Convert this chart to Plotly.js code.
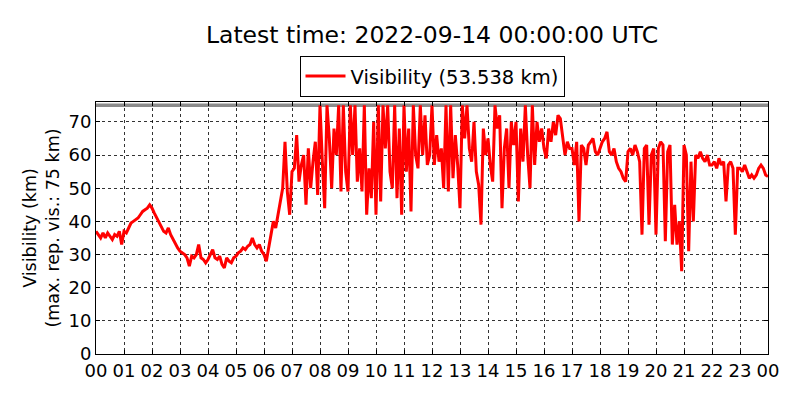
<!DOCTYPE html>
<html>
<head>
<meta charset="utf-8">
<script src="https://cdn.plot.ly/plotly-3.0.1.min.js"></script>
<style>
  html, body { margin: 0; padding: 0; background: #fff; }
  #chart { width: 800px; height: 400px; }
</style>
</head>
<body>
<div id="chart"></div>
<script>
/* visibility, 5-minute samples, km */
const startTime = '2022-09-13T00:00:00';
const stepMinutes = 5;
const maxRepVis = 75;
const latestVis = 53.538;

// 00:00 - 05:55
const visNight = [
  37, 36, 35, 36.5, 35, 36.5, 35.5, 34.5, 36, 35.5, 37, 33,
  37, 36.5, 38, 39.5, 40, 40.5, 41, 42, 43, 43.5, 44, 45,
  44, 42.5, 41, 39.5, 38, 37, 36.5, 38, 36, 34.5, 33.5, 32,
  31, 30.5, 30, 29, 26.5, 29.5, 29, 30, 33, 29, 28.5, 27.5,
  28.5, 30, 31.5, 29, 28.5, 29.5, 27, 26, 29, 28, 27.5, 29,
  29.5, 30.5, 31, 32, 31.5, 32.5, 33, 35, 33, 32, 33, 31
];
// 06:00 - 11:55
const visMorning = [
  30, 28, 32, 36, 40, 38, 42, 46, 50, 64, 49, 42,
  55, 56, 66, 52, 57, 60, 45, 62, 50, 58, 64, 48,
  75, 58, 44, 75, 65, 50, 68, 60, 75, 49, 75, 55,
  49, 75, 60, 75, 52, 62, 49, 75, 42, 56, 47, 70,
  42, 75, 46, 75, 62, 75, 55, 50, 75, 47, 68, 42,
  75, 55, 68, 43, 75, 60, 56, 75, 60, 72, 57, 60
];
// 12:00 - 17:55
const visAfternoon = [
  75, 57, 66, 58, 62, 50, 75, 49, 75, 53, 66, 57,
  44, 75, 65, 75, 62, 58, 70, 55, 51, 39, 68, 60,
  65, 57, 52, 75, 68, 72, 44, 62, 68, 50, 70, 63,
  70, 46, 68, 58, 75, 60, 50, 75, 57, 70, 64, 68,
  62, 59, 68, 64, 70, 66, 72, 71, 65, 60, 64, 62,
  62, 57, 64, 40, 63, 62, 57, 63, 64, 65, 61, 60
];
// 18:00 - 24:00
const visEvening = [
  62, 64, 65, 67, 61, 60, 62, 58, 56, 55, 53, 52,
  61, 62, 60, 63, 61, 58, 36, 62, 63, 39, 60, 62,
  36, 62, 64, 63, 34, 61, 63, 33, 45, 33, 40, 25,
  63, 60, 31, 58, 40, 60, 59, 61, 59, 58, 60, 57,
  57, 58, 56, 59, 57, 58, 46, 57, 58, 56, 36, 56,
  56, 55, 57, 55, 53, 54, 53, 54, 56, 57, 56, 54,
  latestVis
];

const yTicks = [0, 10, 20, 30, 40, 50, 60, 70];

const vis = [].concat(visNight, visMorning, visAfternoon, visEvening);
const t0 = new Date(startTime + 'Z').getTime();
const pad = n => String(n).padStart(2, '0');
const fmt = d => d.getUTCFullYear() + '-' + pad(d.getUTCMonth() + 1) + '-' + pad(d.getUTCDate()) +
  ' ' + pad(d.getUTCHours()) + ':' + pad(d.getUTCMinutes());
const times = vis.map((_, i) => fmt(new Date(t0 + i * stepMinutes * 60000)));
const tStart = times[0];
const tEnd = times[times.length - 1];

const FONT = 'DejaVu Sans, sans-serif';

const visTrace = {
  type: 'scatter',
  mode: 'lines',
  x: times,
  y: vis,
  name: 'Visibility (' + latestVis.toFixed(3) + ' km)',
  line: { color: '#ff0000', width: 3 },
  hoverinfo: 'skip',
};

const maxTrace = {
  type: 'scatter',
  mode: 'lines',
  x: [tStart, tEnd],
  y: [maxRepVis, maxRepVis],
  line: { color: 'rgba(120,120,120,0.85)', width: 3.5 },
  showlegend: false,
  hoverinfo: 'skip',
};

const axisBase = {
  showline: true,
  linecolor: '#000',
  linewidth: 1,
  mirror: 'allticks',
  ticks: 'inside',
  ticklen: 4,
  tickcolor: '#000',
  showgrid: true,
  gridcolor: '#000',
  gridwidth: 0.8,
  griddash: 'dot',
  zeroline: false,
  tickfont: { family: FONT, size: 18, color: '#000' },
};

const layout = {
  width: 800,
  height: 400,
  paper_bgcolor: '#fff',
  plot_bgcolor: '#fff',
  font: { family: FONT, color: '#000' },
  margin: { t: 102, r: 32, b: 46, l: 96 },
  title: {
    text: 'Latest time: 2022-09-14 00:00:00 UTC',
    font: { family: FONT, size: 23.5, color: '#000' },
    x: 0.54, xanchor: 'center',
    y: 0.912, yanchor: 'middle',
  },
  showlegend: true,
  legend: {
    x: 0.5, xanchor: 'center',
    y: 1.183, yanchor: 'top',
    bordercolor: '#000',
    borderwidth: 1,
    bgcolor: '#fff',
    itemwidth: 40,
    font: { family: FONT, size: 19.5, color: '#000' },
  },
  xaxis: Object.assign({}, axisBase, {
    type: 'date',
    range: [tStart, tEnd],
    dtick: 3600000,
    tick0: tStart,
    tickformat: '%H',
  }),
  yaxis: Object.assign({}, axisBase, {
    range: [0, 76],
    tickvals: yTicks,
    title: {
      text: 'Visibility (km)<br>(max. rep. vis.: 75 km)',
      font: { family: FONT, size: 17.5, color: '#000' },
      standoff: 4,
    },
  }),
};

Plotly.newPlot('chart', [maxTrace, visTrace], layout, { displayModeBar: false, staticPlot: true });
</script>
</body>
</html>
